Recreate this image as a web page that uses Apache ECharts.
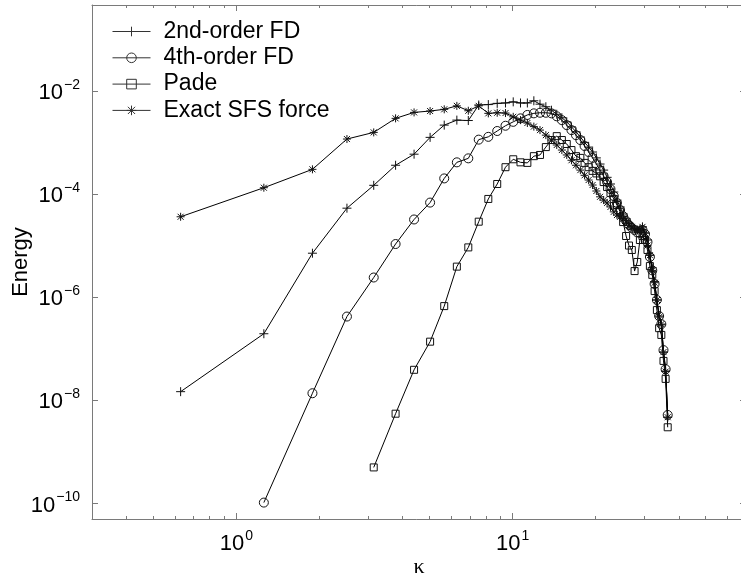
<!DOCTYPE html>
<html>
<head>
<meta charset="utf-8">
<script src="https://cdn.jsdelivr.net/npm/echarts@6/dist/echarts.min.js"></script>
<style>
html,body{margin:0;padding:0;background:#fff;}
#chart{width:741px;height:580px;}
</style>
</head>
<body>
<div id="chart"></div>
<script>
// wavenumbers kappa_n = n * 2*pi/10
const kappa = [0.628, 1.257, 1.885, 2.513, 3.142, 3.770, 4.398, 5.027, 5.655, 6.283,
  6.912, 7.540, 8.168, 8.796, 9.425, 10.053, 10.681, 11.310, 11.938, 12.566,
  13.195, 13.823, 14.451, 15.080, 15.708, 16.336, 16.965, 17.593, 18.221, 18.850,
  19.478, 20.106, 20.735, 21.363, 21.991, 22.619, 23.248, 23.876, 24.504, 25.133,
  25.761, 26.389, 27.018, 27.646, 28.274, 28.903, 29.531, 30.159, 30.788, 31.416,
  32.044, 32.673, 33.301, 33.929, 34.558, 35.186, 35.814, 36.442];

const secondOrderFD = [1.47e-8, 1.95e-7, 7.1e-6, 5.3e-5, 1.47e-4, 3.6e-4, 5.9e-4, 1.25e-3, 2.16e-3, 2.7e-3,
  2.65e-3, 5.3e-3, 5.4e-3, 5.7e-3, 5.8e-3, 6.1e-3, 5.8e-3, 5.8e-3, 6.4e-3, 5.5e-3,
  4.9e-3, 4.2e-3, 3.5e-3, 3.0e-3, 2.5e-3, 2.0e-3, 1.6e-3, 1.27e-3, 1.0e-3, 8.1e-4,
  6.5e-4, 5.0e-4, 3.8e-4, 2.9e-4, 2.1e-4, 1.56e-4, 1.09e-4, 7.6e-5, 5.6e-5, 4.1e-5,
  3.3e-5, 2.7e-5, 2.3e-5, 2.1e-5, 2.0e-5, 1.8e-5, 2.3e-5, 1.75e-5, 1.28e-5, 6.5e-6,
  3.7e-6, 2.0e-6, 8.8e-7, 4.3e-7, 2.9e-7, 8.6e-8, 3.7e-8, 4.7e-9];

const fourthOrderFD = [null, 1.04e-10, 1.37e-8, 4.2e-7, 2.4e-6, 1.07e-5, 3.2e-5, 6.8e-5, 2.0e-4, 4.1e-4,
  4.9e-4, 1.13e-3, 1.28e-3, 1.66e-3, 2.1e-3, 2.5e-3, 2.92e-3, 3.4e-3, 3.65e-3, 3.75e-3,
  3.75e-3, 3.65e-3, 3.2e-3, 2.7e-3, 2.16e-3, 1.73e-3, 1.38e-3, 1.11e-3, 8.5e-4, 6.5e-4,
  5.0e-4, 3.8e-4, 2.9e-4, 2.2e-4, 1.7e-4, 1.24e-4, 9.1e-5, 6.7e-5, 4.9e-5, 3.7e-5,
  3.0e-5, 2.5e-5, 2.2e-5, 2.0e-5, 1.8e-5, 1.75e-5, 2.0e-5, 1.67e-5, 1.17e-5, 6.0e-6,
  3.3e-6, 1.8e-6, 8.8e-7, 4.3e-7, 3.0e-7, 9.4e-8, 4.0e-8, 5.2e-9];

const pade = [null, null, null, null, 5.0e-10, 5.5e-9, 3.9e-8, 1.37e-7, 6.7e-7, 3.9e-6,
  9.2e-6, 2.9e-5, 8.0e-5, 1.56e-4, 3.3e-4, 4.7e-4, 4.1e-4, 4.0e-4, 5.4e-4, 5.7e-4,
  8.1e-4, 1.11e-3, 1.32e-3, 1.11e-3, 9.3e-4, 7.1e-4, 5.4e-4, 5.0e-4, 4.0e-4, 3.3e-4,
  2.8e-4, 2.5e-4, 2.2e-4, 1.7e-4, 1.36e-4, 1.04e-4, 8.0e-5, 6.1e-5, 4.5e-5, 2.85e-5,
  1.53e-5, 1.0e-5, 8.2e-6, 3.2e-6, 4.8e-6, 1.28e-5, 1.53e-5, 1.28e-5, 8.2e-6, 4.0e-6,
  2.7e-6, 1.31e-6, 5.6e-7, 2.5e-7, 1.85e-7, 5.8e-8, 2.6e-8, 3.0e-9];

const exactSFS = [3.61e-5, 1.32e-4, 3.0e-4, 1.16e-3, 1.56e-3, 2.92e-3, 3.81e-3, 4.05e-3, 4.37e-3, 5.1e-3,
  4.1e-3, 5.1e-3, 3.65e-3, 3.75e-3, 3.7e-3, 3.13e-3, 2.7e-3, 2.37e-3, 2.02e-3, 1.73e-3,
  1.38e-3, 1.11e-3, 8.9e-4, 7.1e-4, 5.7e-4, 4.5e-4, 3.6e-4, 2.9e-4, 2.3e-4, 1.86e-4,
  1.49e-4, 1.14e-4, 8.8e-5, 7.6e-5, 6.7e-5, 5.6e-5, 4.5e-5, 3.9e-5, 3.6e-5, 3.3e-5,
  2.85e-5, 2.5e-5, 2.3e-5, 2.1e-5, 2.0e-5, 2.1e-5, 2.3e-5, 1.75e-5, 1.0e-5, 6.5e-6,
  3.3e-6, 1.9e-6, 8.8e-7, 4.1e-7, 3.0e-7, 8.6e-8, 3.6e-8, 4.7e-9];

const seriesNames = ['2nd-order FD', '4th-order FD', 'Pade', 'Exact SFS force'];
const xMajorTicks = [1, 10];
const xMinorTicks = [0.4, 0.5, 0.6, 0.7, 0.8, 0.9, 2, 3, 4, 5, 6, 7, 8, 9, 20, 30, 40, 50, 60];
const yTicks = [1e-10, 1e-8, 1e-6, 1e-4, 1e-2];
const xRange = [0.3, 70];
const yRange = [5e-11, 0.46];

const F = '"Liberation Sans", Arial, Helvetica, sans-serif';
const AX = '#7a7a7a';

function pairs(vals) {
  const out = [];
  vals.forEach((v, i) => { if (v != null) out.push([kappa[i], v]); });
  return out;
}
function sup(v) {
  const e = Math.round(Math.log10(v));
  const s = e < 0 ? '\u2212' + (-e) : '' + e;
  return '{b|10}{s|' + s + '}';
}
const rich = {
  b: {fontSize: 22, fontFamily: F, color: '#000', lineHeight: 26, verticalAlign: 'bottom'},
  s: {fontSize: 14, fontFamily: F, color: '#000', lineHeight: 26, verticalAlign: 'top', padding: [0, 0, 11, 1]}
};

function logAxis(range, extra) {
  return Object.assign({
    type: 'log', logBase: 10, min: range[0], max: range[1],
    splitLine: {show: false}, minorTick: {show: false}, minorSplitLine: {show: false},
    axisLine: {show: false, onZero: false, lineStyle: {color: AX, width: 1}},
    axisTick: {show: false},
    axisLabel: {show: false},
    silent: true
  }, extra);
}
function ticks(vals, len) {
  return {show: true, inside: true, length: len, customValues: vals, lineStyle: {color: AX, width: 1}};
}

const plusPath = 'path://M5,0V10M0,5H10';
const starPath = 'path://M4,0V8M0,4H8M1,1L7,7M1,7L7,1';

const symbols = [plusPath, 'circle', 'rect', starPath];
const sizes = [9, 9, 7, 8];
const datas = [secondOrderFD, fourthOrderFD, pade, exactSFS];

const chart = echarts.init(document.getElementById('chart'), null, {renderer: 'canvas'});
chart.setOption({
  animation: false,
  backgroundColor: '#fff',
  textStyle: {fontFamily: F},
  grid: {left: 92, top: 5, width: 654, height: 514, containLabel: false, outerBoundsMode: 'none'},
  legend: {
    orient: 'vertical', left: 112, top: 20, padding: 0,
    itemWidth: 38, itemHeight: 12, itemGap: 3.3,
    lineStyle: {width: 1, color: '#333'},
    itemStyle: {borderWidth: 1, borderColor: '#333'},
    textStyle: {fontFamily: F, fontSize: 23, color: '#000', padding: [0, 0, 0, 8]},
    data: seriesNames
  },
  xAxis: [
    logAxis(xRange, {position: 'bottom',
      axisLine: {show: true, onZero: false, lineStyle: {color: AX, width: 1}},
      axisTick: ticks(xMajorTicks, 6),
      axisLabel: {show: true, customValues: xMajorTicks, margin: 10, formatter: sup, rich: rich},
      name: '\u03ba', nameLocation: 'middle', nameGap: 37, nameMoveOverlap: false,
      nameTextStyle: {fontFamily: '"Liberation Serif", "DejaVu Serif", serif', fontSize: 22, color: '#000'}}),
    logAxis(xRange, {position: 'bottom', axisTick: ticks(xMinorTicks, 3)}),
    logAxis(xRange, {position: 'top',
      axisLine: {show: true, onZero: false, lineStyle: {color: AX, width: 1}},
      axisTick: ticks(xMajorTicks, 6)}),
    logAxis(xRange, {position: 'top', axisTick: ticks(xMinorTicks, 3)})
  ],
  yAxis: [
    logAxis(yRange, {position: 'left',
      axisLine: {show: true, onZero: false, lineStyle: {color: AX, width: 1}},
      axisTick: ticks(yTicks, 6),
      axisLabel: {show: true, customValues: yTicks, margin: 12, formatter: sup, rich: rich},
      name: 'Energy', nameLocation: 'middle', nameGap: 60, nameMoveOverlap: false,
      nameTextStyle: {fontFamily: F, fontSize: 22, color: '#000'}}),
    logAxis(yRange, {position: 'right',
      axisLine: {show: true, onZero: false, lineStyle: {color: AX, width: 1}},
      axisTick: ticks(yTicks, 6)})
  ],
  series: datas.map((d, i) => ({
    name: seriesNames[i],
    type: 'line',
    xAxisIndex: 0, yAxisIndex: 0,
    data: pairs(d),
    symbol: symbols[i],
    symbolSize: sizes[i],
    showSymbol: true,
    showAllSymbol: true,
    lineStyle: {color: '#000', width: 1},
    itemStyle: {color: 'rgba(0,0,0,0)', borderColor: '#111', borderWidth: 1},
    emphasis: {disabled: true},
    z: 2 + i
  }))
});
</script>
</body>
</html>
